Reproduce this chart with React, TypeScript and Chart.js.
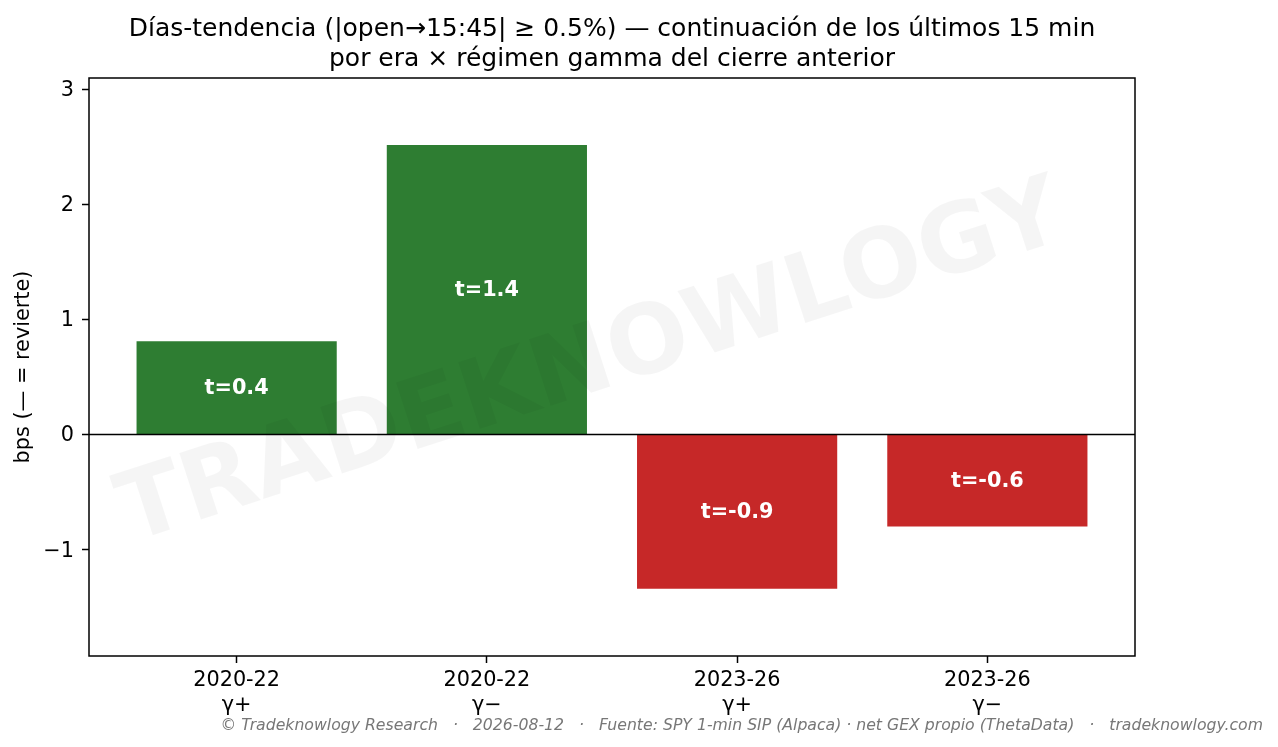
import { useEffect, useRef } from 'react'
import { Chart, registerables, type ChartConfiguration, type Plugin } from 'chart.js'

Chart.register(...registerables)

// era × gamma regime of the prior close
const categories = [
  ['2020-22', 'γ+'],
  ['2020-22', 'γ−'],
  ['2023-26', 'γ+'],
  ['2023-26', 'γ−'],
]
// mean continuation of the last 15 min, bps
const meanBps = [0.81, 2.515, -1.34, -0.8]
const tLabels = ['t=0.4', 't=1.4', 't=-0.9', 't=-0.6']
const yTicks = [-1, 0, 1, 2, 3]
const yLimits = [-1.924, 3.097]
const xLimits = [-0.59, 3.59]

const titleLines = [
  'Días-tendencia (|open→15:45| ≥ 0.5%) — continuación de los últimos 15 min',
  'por era × régimen gamma del cierre anterior',
]
const yTitle = 'bps (— = revierte)'
const footer =
  '© Tradeknowlogy Research   ·   2026-08-12   ·   Fuente: SPY 1-min SIP (Alpaca) · net GEX propio (ThetaData)   ·   tradeknowlogy.com'
const watermark = 'TRADEKNOWLOGY'

const FONT = "'DejaVu Sans', sans-serif"
const GREEN = '#2e7d32'
const RED = '#c62828'

const overlayPlugin: Plugin<'bar'> = {
  id: 'overlay',
  afterDatasetsDraw(chart) {
    const { ctx, chartArea } = chart
    const y = chart.scales.y
    const meta = chart.getDatasetMeta(0)
    if (!y || !meta) return

    ctx.save()
    // zero line
    const y0 = y.getPixelForValue(0)
    ctx.strokeStyle = '#000'
    ctx.lineWidth = 1.5
    ctx.beginPath()
    ctx.moveTo(chartArea.left, y0)
    ctx.lineTo(chartArea.right, y0)
    ctx.stroke()

    // t-stat labels in the middle of each bar
    ctx.fillStyle = '#fff'
    ctx.font = `bold 20.8px ${FONT}`
    ctx.textAlign = 'center'
    ctx.textBaseline = 'middle'
    meta.data.forEach((bar, i) => {
      const p = bar.getProps(['x', 'y', 'base'], true) as { x: number; y: number; base: number }
      ctx.fillText(tLabels[i], p.x, (p.y + p.base) / 2 + 1)
    })

    // full frame around the axes
    ctx.strokeRect(chartArea.left, chartArea.top, chartArea.width, chartArea.height)
    ctx.restore()
  },
  afterDraw(chart) {
    const { ctx, width, height } = chart
    ctx.save()
    // watermark
    ctx.translate(width * 0.469, height * 0.522)
    ctx.rotate((-18 * Math.PI) / 180)
    ctx.font = `bold 96px ${FONT}`
    ctx.fillStyle = 'rgba(0,0,0,0.04)'
    ctx.textAlign = 'center'
    ctx.textBaseline = 'alphabetic'
    ctx.fillText(watermark, 0, 0)
    ctx.restore()

    // source footer
    ctx.save()
    ctx.font = `italic 15.7px ${FONT}`
    ctx.fillStyle = '#777'
    ctx.textAlign = 'right'
    ctx.textBaseline = 'middle'
    ctx.fillText(footer, width - 15, height - 21)
    ctx.restore()
  },
}

export default function App() {
  const canvasRef = useRef<HTMLCanvasElement>(null)

  useEffect(() => {
    document.body.style.margin = '0'
    const canvas = canvasRef.current
    if (!canvas) return

    Chart.defaults.font.family = FONT

    const config: ChartConfiguration<'bar'> = {
      type: 'bar',
      data: {
        datasets: [
          {
            label: 'bps',
            data: meanBps.map((v, i) => ({ x: i, y: v })) as any,
            backgroundColor: meanBps.map((v) => (v >= 0 ? GREEN : RED)),
            borderWidth: 0,
            categoryPercentage: 0.8,
            barPercentage: 1,
          },
        ],
      },
      options: {
        animation: false,
        responsive: true,
        maintainAspectRatio: false,
        layout: { padding: { left: 0, right: 143, top: 0, bottom: 0 } },
        plugins: {
          legend: { display: false },
          tooltip: { enabled: false },
          title: {
            display: true,
            fullSize: false,
            text: titleLines,
            color: '#000',
            font: { size: 25, weight: 'normal', family: FONT },
            padding: { top: 14, bottom: 4 },
          },
        },
        scales: {
          x: {
            type: 'linear',
            min: xLimits[0],
            max: xLimits[1],
            offset: false,
            afterBuildTicks: (axis) => {
              axis.ticks = categories.map((_, i) => ({ value: i }))
            },
            afterFit: (scale) => {
              scale.height = 91
            },
            ticks: {
              color: '#000',
              font: { size: 20.8 },
              padding: 5,
              autoSkip: false,
              maxRotation: 0,
              callback: (v) => categories[Number(v)] ?? '',
            },
            grid: {
              offset: false,
              drawOnChartArea: false,
              drawTicks: true,
              tickLength: 7,
              tickColor: '#000',
              tickWidth: 1.5,
            },
            border: { display: false },
          },
          y: {
            type: 'linear',
            min: yLimits[0],
            max: yLimits[1],
            afterBuildTicks: (axis) => {
              axis.ticks = yTicks.map((value) => ({ value }))
            },
            afterFit: (scale) => {
              scale.width = 89
            },
            ticks: {
              color: '#000',
              font: { size: 20.8 },
              padding: 8,
              labelOffset: 1.5,
              callback: (v) => (Number(v) < 0 ? `−${Math.abs(Number(v))}` : String(v)),
            },
            grid: {
              drawOnChartArea: false,
              drawTicks: true,
              tickLength: 7,
              tickColor: '#000',
              tickWidth: 1.5,
            },
            border: { display: false },
            title: {
              display: true,
              text: yTitle,
              color: '#000',
              font: { size: 20.8 },
              padding: { top: 11.5, bottom: 0 },
            },
          },
        },
      },
      plugins: [overlayPlugin],
    }

    const chart = new Chart(canvas, config)
    return () => {
      chart.destroy()
    }
  }, [])

  return (
    <div style={{ position: 'absolute', left: 0, top: 0, width: 1278, height: 747 }}>
      <canvas ref={canvasRef} />
    </div>
  )
}
